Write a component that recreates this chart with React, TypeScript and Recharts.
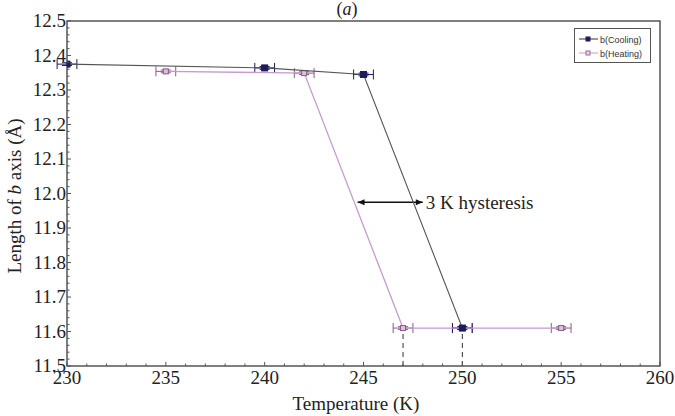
import React from 'react';
import {
  ComposedChart,
  Scatter,
  XAxis,
  YAxis,
  ErrorBar,
  ReferenceLine,
  ReferenceArea,
} from 'recharts';

document.body.style.margin = '0';

// cooling run
const coolingT = [230, 240, 245, 250];
const coolingB = [12.375, 12.364, 12.345, 11.61];

// heating run
const heatingT = [235, 242, 247, 250, 255];
const heatingB = [12.354, 12.349, 11.61, 11.61, 11.61];

const tErr = 0.5;
const bErr = 0.004;

const xTicks = [230, 235, 240, 245, 250, 255, 260];
const yTicks = [11.5, 11.6, 11.7, 11.8, 11.9, 12.0, 12.1, 12.2, 12.3, 12.4, 12.5];
const xMinor = Array.from({ length: 31 }, (_, i) => 230 + i);
const yMinor = Array.from({ length: 51 }, (_, i) => Math.round((11.5 + i * 0.02) * 100) / 100);

const transitionT = [247, 250];
const hysteresis = { from: 244.7, to: 248.0, b: 11.975, text: '3 K hysteresis' };

const coolingData = coolingT.map((t, i) => ({ t, b: coolingB[i], tErr, bErr }));
const heatingData = heatingT.map((t, i) => ({ t, b: heatingB[i], tErr, bErr }));

const SERIF = '"Liberation Serif", "Times New Roman", serif';
const SANS = '"Liberation Sans", Arial, sans-serif';
const AXIS = '#555';

const XTick = (props: any) => {
  const { x, y, payload } = props;
  const major = xTicks.includes(payload.value);
  return (
    <g>
      <line x1={x} y1={y} x2={x} y2={y - (major ? 4 : 2.5)} stroke={AXIS} strokeWidth={1} />
      {major && (
        <text x={x} y={y + 18} textAnchor="middle" fontFamily={SERIF} fontSize={19} fill="#222">
          {payload.value}
        </text>
      )}
    </g>
  );
};

const YTick = (props: any) => {
  const { x, y, payload } = props;
  const v = payload.value;
  const major = yTicks.some((t) => Math.abs(t - v) < 1e-6);
  return (
    <g>
      <line x1={x} y1={y} x2={x + (major ? 4 : 2.5)} y2={y} stroke={AXIS} strokeWidth={1} />
      {major && (
        <text x={x - 1} y={y + 6} textAnchor="end" fontFamily={SERIF} fontSize={19} fill="#222">
          {v.toFixed(1)}
        </text>
      )}
    </g>
  );
};

const CoolMarker = (props: any) => (
  <rect x={props.cx - 3} y={props.cy - 3} width={6} height={6} fill="#1b1b5e" stroke="#1b1b5e" />
);

const HeatMarker = (props: any) => (
  <rect x={props.cx - 2.5} y={props.cy - 2.5} width={5} height={5} fill="#d8c4d8" stroke="#8a5a8a" />
);

const Arrow = (props: any) => {
  const { x1, y1, x2, y2 } = props;
  const h = 5;
  return (
    <g>
      <line x1={x1} y1={y1} x2={x2} y2={y2} stroke="#111" strokeWidth={1.5} />
      <polygon points={`${x1},${y1} ${x1 + h * 1.4},${y1 - h * 0.6} ${x1 + h * 1.4},${y1 + h * 0.6}`} fill="#111" />
      <polygon points={`${x2},${y2} ${x2 - h * 1.4},${y2 - h * 0.6} ${x2 - h * 1.4},${y2 + h * 0.6}`} fill="#111" />
      <text x={x2 + 3} y={y2 + 7} fontFamily={SERIF} fontSize={19} fill="#222">
        {hysteresis.text}
      </text>
    </g>
  );
};

const LegendBox = () => (
  <svg width={78} height={36} style={{ display: 'block' }}>
    <rect x={0.5} y={0.5} width={76} height={34} fill="#fff" stroke="#555" />
    <line x1={5} y1={11} x2={24} y2={11} stroke="#333" />
    <rect x={11.5} y={8.5} width={5} height={5} fill="#1b1b5e" />
    <text x={26} y={14.5} fontFamily={SANS} fontSize={9} fill="#333">
      b(Cooling)
    </text>
    <line x1={5} y1={25} x2={24} y2={25} stroke="#c59ccb" />
    <rect x={12} y={23} width={4} height={4} fill="#e6d6e8" stroke="#9a6a9a" />
    <text x={26} y={28.5} fontFamily={SANS} fontSize={9} fill="#333">
      b(Heating)
    </text>
  </svg>
);

export default function App() {
  return (
    <div style={{ position: 'relative', width: 675, height: 416, background: '#fff', overflow: 'hidden' }}>
      <ComposedChart width={675} height={416} margin={{ top: 21, right: 15, left: 0, bottom: 0 }}>
        <XAxis
          type="number"
          dataKey="t"
          domain={[230, 260]}
          ticks={xMinor}
          interval={0}
          tick={<XTick />}
          tickLine={false}
          tickSize={0}
          tickMargin={0}
          axisLine={false}
          height={50}
          allowDataOverflow
          label={{
            content: () => (
              <text x={356} y={410} textAnchor="middle" fontFamily={SERIF} fontSize={19} fill="#222">
                Temperature (K)
              </text>
            ),
          }}
        />
        <YAxis
          type="number"
          dataKey="b"
          domain={[11.5, 12.5]}
          ticks={yMinor}
          interval={0}
          tick={<YTick />}
          tickLine={false}
          tickSize={0}
          tickMargin={0}
          axisLine={false}
          width={67}
          allowDataOverflow
          label={{
            content: () => (
              <text
                transform="translate(21, 196) rotate(-90)"
                textAnchor="middle"
                fontFamily={SERIF}
                fontSize={19}
                fill="#222"
              >
                Length of <tspan fontStyle="italic">b</tspan> axis (Å)
              </text>
            ),
          }}
        />
        <ReferenceArea x1={230} x2={260} y1={11.5} y2={12.5} fill="none" stroke={AXIS} strokeWidth={1.5} />
        {transitionT.map((t) => (
          <ReferenceLine
            key={t}
            segment={[
              { x: t, y: 11.5 },
              { x: t, y: 11.61 },
            ]}
            stroke="#333"
            strokeDasharray="5 4"
          />
        ))}
        <Scatter
          data={heatingData}
          line={{ stroke: '#c59ccb', strokeWidth: 1.3 }}
          shape={<HeatMarker />}
          isAnimationActive={false}
        >
          <ErrorBar dataKey="tErr" direction="x" width={5} stroke="#8a5a8a" strokeWidth={1} />
          <ErrorBar dataKey="bErr" direction="y" width={5} stroke="#8a5a8a" strokeWidth={1} />
        </Scatter>
        <Scatter
          data={coolingData}
          line={{ stroke: '#555', strokeWidth: 1.1 }}
          shape={<CoolMarker />}
          isAnimationActive={false}
        >
          <ErrorBar dataKey="tErr" direction="x" width={5} stroke="#1b1b5e" strokeWidth={1} />
          <ErrorBar dataKey="bErr" direction="y" width={5} stroke="#1b1b5e" strokeWidth={1} />
        </Scatter>
        <ReferenceLine
          segment={[
            { x: hysteresis.from, y: hysteresis.b },
            { x: hysteresis.to, y: hysteresis.b },
          ]}
          shape={<Arrow />}
        />
      </ComposedChart>
      <div
        style={{
          position: 'absolute',
          left: 0,
          width: 694,
          top: 0,
          textAlign: 'center',
          fontFamily: SERIF,
          fontSize: 18,
          lineHeight: '18px',
          color: '#222',
        }}
      >
        (<i>a</i>)
      </div>
      <div style={{ position: 'absolute', left: 574, top: 28 }}>
        <LegendBox />
      </div>
    </div>
  );
}
